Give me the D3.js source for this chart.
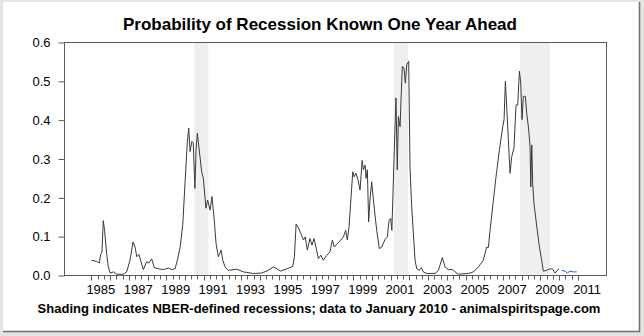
<!DOCTYPE html>
<html>
<head>
<meta charset="utf-8">
<script src="https://cdn.jsdelivr.net/npm/d3@7"></script>
<style>
  html, body { margin: 0; padding: 0; background: #ffffff; }
  svg { display: block; }
  text { font-family: "Liberation Sans", Arial, sans-serif; fill: #000; }
</style>
</head>
<body>
<svg id="chart" width="644" height="336"></svg>
<script>
// ---- Data ----
const titleText = "Probability of Recession Known One Year Ahead";
const captionText = "Shading indicates NBER-defined recessions; data to January 2010 - animalspiritspage.com";

// Decimal year of each observation and its probability
const probDates = [
  1985.00,1985.28,1985.42,1985.49,1985.56,1985.63,1985.70,1985.81,1985.90,1986.00,
  1986.17,1986.35,1986.70,1986.88,1987.06,1987.22,1987.33,1987.42,1987.54,1987.65,
  1987.77,1987.95,1988.07,1988.22,1988.36,1988.57,1988.84,1989.11,1989.29,1989.47,
  1989.60,1989.75,1989.88,1990.00,1990.12,1990.20,1990.27,1990.37,1990.44,1990.53,
  1990.59,1990.66,1990.76,1990.89,1990.98,1991.12,1991.21,1991.34,1991.44,1991.55,
  1991.66,1991.78,1991.93,1992.02,1992.14,1992.32,1992.77,1993.12,1993.65,1994.10,
  1994.45,1994.72,1994.99,1995.10,1995.44,1995.76,1995.85,1995.94,1996.06,1996.19,
  1996.33,1996.43,1996.54,1996.68,1996.79,1996.90,1997.00,1997.13,1997.26,1997.40,
  1997.58,1997.75,1997.88,1997.98,1998.14,1998.33,1998.47,1998.59,1998.68,1998.77,
  1998.88,1998.97,1999.05,1999.14,1999.25,1999.36,1999.47,1999.54,1999.63,1999.68,
  1999.75,1999.82,1999.89,1999.98,2000.11,2000.25,2000.39,2000.52,2000.70,2000.82,
  2000.91,2001.00,2001.06,2001.11,2001.19,2001.28,2001.35,2001.41,2001.50,2001.55,
  2001.62,2001.71,2001.78,2001.86,2001.96,2002.03,2002.12,2002.21,2002.30,2002.39,
  2002.53,2002.64,2002.74,2002.93,2003.37,2003.55,2003.76,2003.90,2004.08,2004.32,
  2004.44,2004.62,2005.15,2005.42,2005.69,2005.95,2006.13,2006.22,2006.31,2006.49,
  2006.63,2006.81,2006.99,2007.06,2007.13,2007.20,2007.29,2007.38,2007.47,2007.59,
  2007.70,2007.79,2007.88,2007.95,2008.02,2008.09,2008.20,2008.27,2008.36,2008.45,
  2008.49,2008.54,2008.59,2008.66,2008.81,2008.95,2009.07,2009.16,2009.34,2009.52,
  2009.66,2009.79,2009.91,2010.00
];
const probValues = [
  0.038,0.035,0.031,0.053,0.059,0.140,0.115,0.055,0.021,0.005,
  0.008,0.002,0.002,0.008,0.038,0.085,0.072,0.047,0.053,0.034,
  0.014,0.034,0.031,0.041,0.019,0.016,0.014,0.018,0.014,0.016,
  0.040,0.075,0.130,0.236,0.340,0.378,0.318,0.344,0.340,0.223,
  0.322,0.365,0.322,0.266,0.249,0.172,0.193,0.167,0.202,0.150,
  0.081,0.047,0.064,0.038,0.021,0.012,0.015,0.008,0.004,0.005,
  0.012,0.021,0.014,0.010,0.016,0.022,0.047,0.131,0.122,0.107,
  0.090,0.098,0.064,0.094,0.077,0.094,0.072,0.042,0.051,0.038,
  0.051,0.059,0.090,0.072,0.081,0.090,0.098,0.115,0.090,0.124,
  0.202,0.266,0.253,0.262,0.245,0.219,0.295,0.271,0.283,0.249,
  0.271,0.137,0.193,0.240,0.176,0.115,0.068,0.072,0.092,0.098,
  0.141,0.146,0.115,0.193,0.322,0.456,0.271,0.408,0.382,0.451,
  0.537,0.533,0.494,0.542,0.550,0.279,0.176,0.107,0.038,0.016,
  0.012,0.019,0.008,0.004,0.004,0.012,0.045,0.021,0.014,0.014,
  0.008,0.002,0.004,0.008,0.021,0.038,0.072,0.071,0.115,0.193,
  0.253,0.322,0.382,0.400,0.499,0.434,0.348,0.262,0.305,0.327,
  0.438,0.438,0.525,0.495,0.400,0.460,0.460,0.417,0.382,0.331,
  0.227,0.335,0.236,0.184,0.124,0.072,0.038,0.010,0.012,0.016,
  0.015,0.005,0.012,0.016
];

// Forecast part (blue)
const forecastDates  = [2010.14, 2010.32, 2010.44, 2010.59, 2010.77, 2010.95];
const forecastValues = [0.012, 0.010, 0.005, 0.010, 0.008, 0.008];

// NBER recessions (start, end) in decimal years
const recessionStarts = [1990.50, 2001.17, 2007.92];
const recessionEnds   = [1991.25, 2001.92, 2009.50];

// Axis ticks
const yTicks = [0, 0.1, 0.2, 0.3, 0.4, 0.5, 0.6];
const yearLabels = [1985,1987,1989,1991,1993,1995,1997,1999,2001,2003,2005,2007,2009,2011];

// ---- Layout ----
const W = 644, H = 336;
const plot = { left: 64, right: 606, top: 42, bottom: 275 };

const svg = d3.select("#chart");

// Frame (screenshot style border)
svg.append("rect").attr("x", 0).attr("y", 0).attr("width", W).attr("height", H).attr("fill", "#e4e4e0");
svg.append("rect").attr("x", 3).attr("y", 2).attr("width", 636).attr("height", 329).attr("fill", "#ffffff");
svg.append("line").attr("x1", 639.5).attr("x2", 639.5).attr("y1", 2).attr("y2", 332).attr("stroke", "#6e6e6e").attr("stroke-width", 1.5);
svg.append("line").attr("x1", 3).attr("x2", 640).attr("y1", 331.5).attr("y2", 331.5).attr("stroke", "#6e6e6e").attr("stroke-width", 1.5);

// Scales
const x = d3.scaleLinear().domain([1983.53, 2012.51]).range([plot.left, plot.right]);
const y = d3.scaleLinear().domain([0, 0.6]).range([plot.bottom, plot.top]);

// Recession shading
const rec = recessionStarts.map((s, i) => ({ s, e: recessionEnds[i] }));
svg.append("g").selectAll("rect").data(rec).join("rect")
  .attr("x", d => x(d.s))
  .attr("width", d => x(d.e) - x(d.s))
  .attr("y", plot.top + 1)
  .attr("height", plot.bottom - plot.top - 1)
  .attr("fill", "#efefef");

// Line
const line = d3.line().x(d => x(d[0])).y(d => y(d[1]));
const mainData = probDates.map((t, i) => [t, probValues[i]]);
const fcData = forecastDates.map((t, i) => [t, forecastValues[i]]);

svg.append("path").datum(mainData)
  .attr("d", line).attr("fill", "none")
  .attr("stroke", "#3a3a3a").attr("stroke-width", 1).attr("stroke-linejoin", "round");
svg.append("path").datum(fcData)
  .attr("d", line).attr("fill", "none")
  .attr("stroke", "#3355ee").attr("stroke-width", 1);

// Plot box
svg.append("rect")
  .attr("x", plot.left + 0.5).attr("y", plot.top + 0.5)
  .attr("width", plot.right - plot.left).attr("height", plot.bottom - plot.top)
  .attr("fill", "none").attr("stroke", "#5a5a5a").attr("stroke-width", 1);

// Y axis
const yAxis = d3.axisLeft(y).tickValues(yTicks).tickFormat(d3.format(".1f")).tickSize(6).tickPadding(8);
const gy = svg.append("g").attr("transform", `translate(${plot.left + 0.5},0.5)`).call(yAxis);
gy.select(".domain").remove();
gy.selectAll(".tick line").attr("stroke", "#5a5a5a");
gy.selectAll(".tick text").attr("font-size", 13).attr("font-family", "Liberation Sans, Arial, sans-serif").attr("fill", "#000");

// X axis: ticks every 1/3 year over data range
const minorTicks = d3.range(0, 26 * 3 + 1).map(i => 1985 + i / 3);
const gx = svg.append("g").attr("transform", `translate(0.5,${plot.bottom + 0.5})`);
gx.selectAll("line").data(minorTicks).join("line")
  .attr("x1", d => Math.round(x(d))).attr("x2", d => Math.round(x(d)))
  .attr("y1", 0).attr("y2", d => (Math.abs(d - Math.round(d)) < 1e-6) ? 5 : 4)
  .attr("stroke", "#5a5a5a").attr("stroke-width", 1);
svg.append("g").selectAll("text").data(yearLabels).join("text")
  .attr("x", d => x(d + 0.5))
  .attr("y", 294)
  .attr("text-anchor", "middle")
  .attr("font-size", 13)
  .text(d => d);

// Title & caption
svg.append("text").attr("x", 320).attr("y", 30).attr("text-anchor", "middle")
  .attr("font-size", 17).attr("font-weight", "bold").text(titleText);
svg.append("text").attr("x", 319).attr("y", 312.5).attr("text-anchor", "middle")
  .attr("font-size", 13).attr("font-weight", "bold").text(captionText);
</script>
</body>
</html>
